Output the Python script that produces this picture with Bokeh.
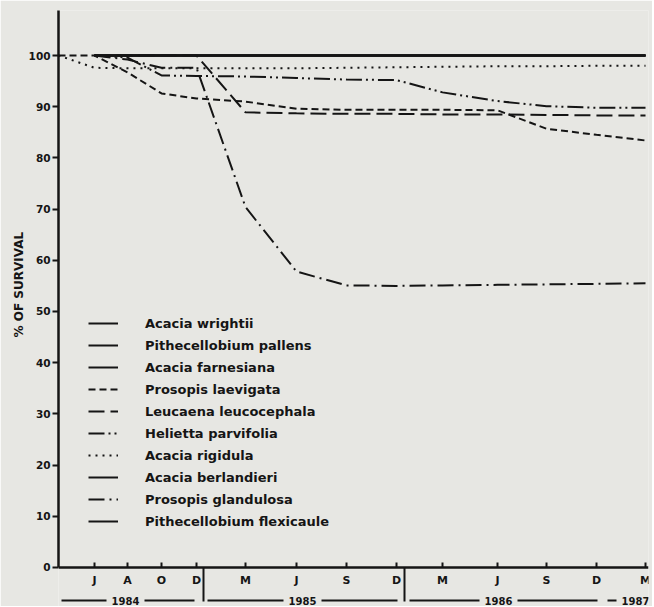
from bokeh.plotting import figure
from bokeh.models import FixedTicker, Title
from bokeh.core.properties import value
from bokeh.embed import file_html
from bokeh.resources import INLINE

nan = float("nan")

# x axis: sampling dates (irregular spacing as drawn in the original)
month_labels = ["J", "A", "O", "D", "M", "J", "S", "D", "M", "J", "S", "D", "M"]
month_pos = [36, 69, 103, 138, 187, 238, 288, 338, 384, 439, 488, 538, 587]
x_vals = [0] + month_pos
year_dividers = [145, 346]
year_labels = ["1984", "1985", "1986", "1987"]
year_centers = [67, 244, 440, 577]
year_spans = [(3, 136), (149, 339), (351, 539), (549, 594)]

# % survival per species (start, J84, A84, O84, D84, M85, J85, S85, D85, M86, J86, S86, D86, M87)
acacia_wrightii = [nan, 100, 100, 100, 100, 100, 100, 100, 100, 100, 100, 100, 100, 100]
pithecellobium_pallens = [nan, 100, 100, 100, 100, 100, 100, 100, 100, 100, 100, 100, 100, 100]
acacia_farnesiana = [nan, 100, 100, 100, 100, 100, 100, 100, 100, 100, 100, 100, 100, 100]
prosopis_laevigata = [100, 100, 96.7, 92.6, 91.6, 91.0, 89.6, 89.4, 89.4, 89.4, 89.3, 85.7, 84.5, 83.4]
leucaena_leucocephala = [nan, 100, 100, 100, 100, 88.9, 88.7, 88.6, 88.6, 88.5, 88.5, 88.4, 88.3, 88.3]
helietta_parvifolia = [nan, 100, 99.6, 96.1, 96.0, 95.9, 95.6, 95.3, 95.2, 92.8, 91.1, 90.1, 89.8, 89.8]
acacia_rigidula = [100, 97.6, 97.5, 97.5, 97.5, 97.5, 97.5, 97.6, 97.7, 97.8, 97.9, 97.9, 98.0, 98.0]
acacia_berlandieri = [nan, 100, 100, 100, 100, 100, 100, 100, 100, 100, 100, 100, 100, 100]
prosopis_glandulosa = [nan, 100, 99.2, 97.6, 97.6, 70.4, 57.8, 55.1, 55.0, 55.1, 55.2, 55.3, 55.4, 55.5]
pithecellobium_flexicaule = [nan, 100, 100, 100, 100, 100, 100, 100, 100, 100, 100, 100, 100, 100]

series = [
    ("Acacia wrightii", acacia_wrightii, "solid"),
    ("Pithecellobium pallens", pithecellobium_pallens, "solid"),
    ("Acacia farnesiana", acacia_farnesiana, "solid"),
    ("Prosopis laevigata", prosopis_laevigata, "7 4"),
    ("Leucaena leucocephala", leucaena_leucocephala, "16 6"),
    ("Helietta parvifolia", helietta_parvifolia, "16 4 2 4 2 4"),
    ("Acacia rigidula", acacia_rigidula, "2 5"),
    ("Acacia berlandieri", acacia_berlandieri, "solid"),
    ("Prosopis glandulosa", prosopis_glandulosa, "16 5 2 5"),
    ("Pithecellobium flexicaule", pithecellobium_flexicaule, "solid"),
]

BG = "#e7e7e3"
INK = "#151515"
FONT = "DejaVu Sans"

p = figure(width=652, height=606, output_backend="svg", toolbar_location=None,
           x_range=(0, 590), y_range=(-7.62, 108.79),
           min_border_left=58, min_border_right=4, min_border_top=10, min_border_bottom=0)
p.background_fill_color = BG
p.border_fill_color = BG
p.outline_line_color = None
p.grid.visible = False

for name, vals, dash in series:
    p.line(x_vals, vals, line_color=INK, line_width=2, line_dash=dash, legend_label=name)

# x axis drawn at y = 0 inside the frame
xa = p.xaxis[0]
xa.fixed_location = 0
xa.bounds = (0, 590)
xa.ticker = FixedTicker(ticks=month_pos, minor_ticks=year_dividers)
xa.axis_line_color = INK
xa.axis_line_width = 2.5
xa.major_tick_in = 5
xa.major_tick_out = 0
xa.major_tick_line_color = INK
xa.major_tick_line_width = 2
xa.minor_tick_in = 0
xa.minor_tick_out = 34
xa.minor_tick_line_color = INK
xa.minor_tick_line_width = 2
xa.major_label_text_color = None

# month labels
p.text(x=month_pos, y=[-2.5] * len(month_pos), text=month_labels,
       text_font=value(FONT), text_font_style="bold", text_font_size="11px",
       text_align="center", text_baseline="middle", text_color=INK)

# y axis
ya = p.yaxis[0]
ya.bounds = (0, 108.79)
ya.ticker = FixedTicker(ticks=list(range(0, 101, 10)))
ya.axis_line_color = INK
ya.axis_line_width = 2.5
ya.major_tick_in = 0
ya.major_tick_out = 6
ya.major_tick_line_color = INK
ya.major_tick_line_width = 2
ya.minor_tick_line_color = None
ya.major_label_standoff = 2
ya.major_label_text_font = FONT
ya.major_label_text_font_style = "bold"
ya.major_label_text_font_size = "10.5px"
ya.major_label_text_color = INK

p.add_layout(Title(text="% OF SURVIVAL", align="left", offset=269, standoff=0,
                   text_font=FONT, text_font_style="bold", text_font_size="12px",
                   text_color=INK), "left")

# year row below the month labels
half = 19
x0s, x1s = [], []
for (a, b), c in zip(year_spans, year_centers):
    if c - half - a > 4:
        x0s.append(a); x1s.append(c - half)
    if b - (c + half) > 4:
        x0s.append(c + half); x1s.append(b)
y_year = -6.45
p.segment(x0=x0s, y0=[y_year] * len(x0s), x1=x1s, y1=[y_year] * len(x0s),
          line_color=INK, line_width=1.8)
p.text(x=year_centers, y=[y_year] * len(year_centers), text=year_labels,
       text_font=value(FONT), text_font_style="bold", text_font_size="10px",
       text_align="center", text_baseline="middle", text_color=INK)

# legend
lg = p.legend[0]
lg.location = (30, 77)
lg.background_fill_alpha = 0
lg.border_line_color = None
lg.padding = 0
lg.margin = 0
lg.spacing = 6
lg.glyph_width = 30
lg.glyph_height = 16
lg.label_height = 16
lg.label_standoff = 27
lg.label_text_font = FONT
lg.label_text_font_style = "bold"
lg.label_text_font_size = "13px"
lg.label_text_color = INK

open("out.html", "w").write(file_html(p, INLINE))
